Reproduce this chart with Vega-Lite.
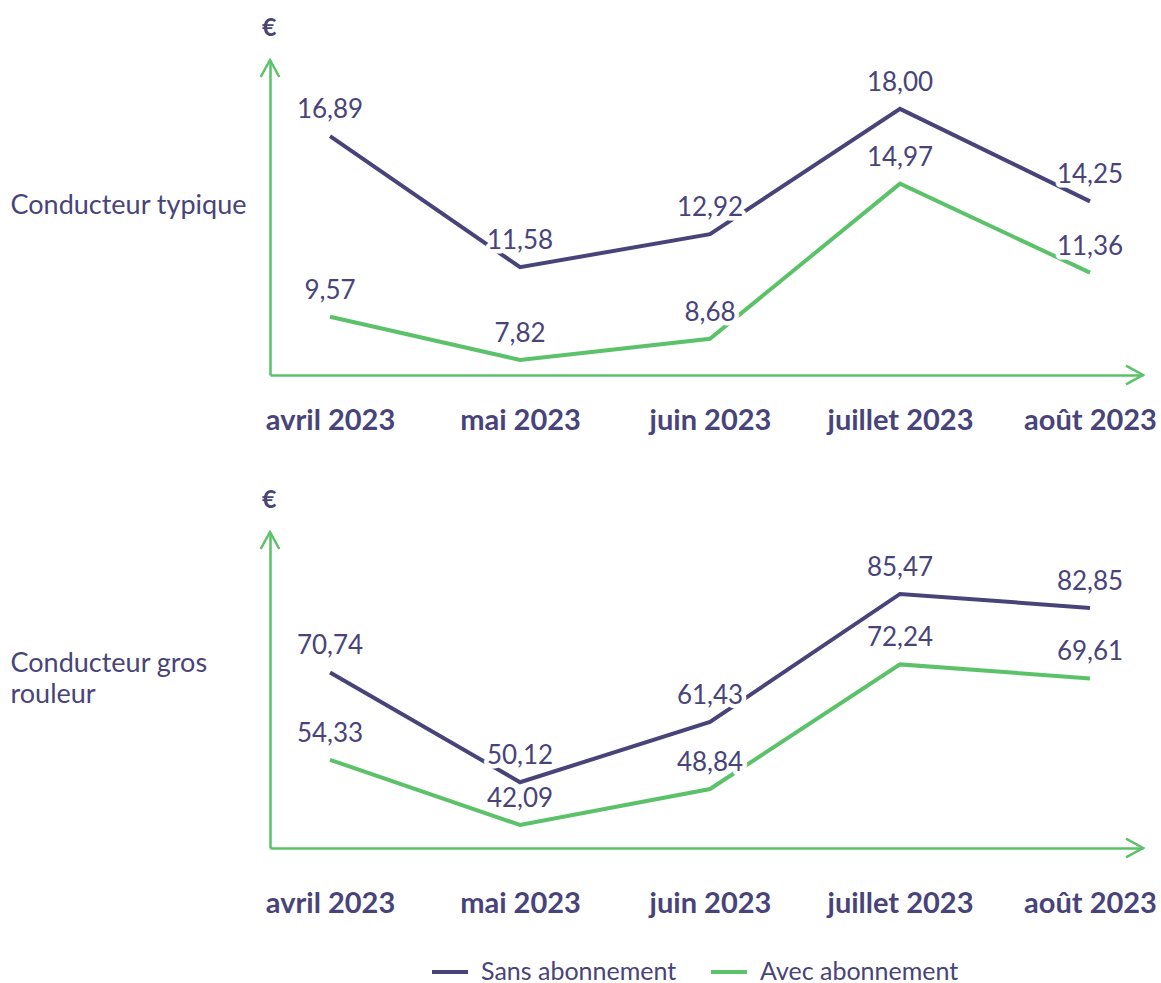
{
  "$schema": "https://vega.github.io/schema/vega-lite/v6.json",
  "padding": {"left": 10, "top": 16, "right": 0, "bottom": 0},
  "background": "white",
  "config": {"view": {"stroke": null}, "font": "Lato"},
  "datasets": {
    "p1": [
      {"mois": "avril 2023", "i": 0, "serie": "Sans abonnement", "valeur": 16.89, "label": "16,89"},
      {"mois": "mai 2023", "i": 1, "serie": "Sans abonnement", "valeur": 11.58, "label": "11,58"},
      {"mois": "juin 2023", "i": 2, "serie": "Sans abonnement", "valeur": 12.92, "label": "12,92"},
      {"mois": "juillet 2023", "i": 3, "serie": "Sans abonnement", "valeur": 18.00, "label": "18,00"},
      {"mois": "août 2023", "i": 4, "serie": "Sans abonnement", "valeur": 14.25, "label": "14,25"},
      {"mois": "avril 2023", "i": 0, "serie": "Avec abonnement", "valeur": 9.57, "label": "9,57"},
      {"mois": "mai 2023", "i": 1, "serie": "Avec abonnement", "valeur": 7.82, "label": "7,82"},
      {"mois": "juin 2023", "i": 2, "serie": "Avec abonnement", "valeur": 8.68, "label": "8,68"},
      {"mois": "juillet 2023", "i": 3, "serie": "Avec abonnement", "valeur": 14.97, "label": "14,97"},
      {"mois": "août 2023", "i": 4, "serie": "Avec abonnement", "valeur": 11.36, "label": "11,36"}
    ],
    "p2": [
      {"mois": "avril 2023", "i": 0, "serie": "Sans abonnement", "valeur": 70.74, "label": "70,74"},
      {"mois": "mai 2023", "i": 1, "serie": "Sans abonnement", "valeur": 50.12, "label": "50,12"},
      {"mois": "juin 2023", "i": 2, "serie": "Sans abonnement", "valeur": 61.43, "label": "61,43"},
      {"mois": "juillet 2023", "i": 3, "serie": "Sans abonnement", "valeur": 85.47, "label": "85,47"},
      {"mois": "août 2023", "i": 4, "serie": "Sans abonnement", "valeur": 82.85, "label": "82,85"},
      {"mois": "avril 2023", "i": 0, "serie": "Avec abonnement", "valeur": 54.33, "label": "54,33"},
      {"mois": "mai 2023", "i": 1, "serie": "Avec abonnement", "valeur": 42.09, "label": "42,09"},
      {"mois": "juin 2023", "i": 2, "serie": "Avec abonnement", "valeur": 48.84, "label": "48,84"},
      {"mois": "juillet 2023", "i": 3, "serie": "Avec abonnement", "valeur": 72.24, "label": "72,24"},
      {"mois": "août 2023", "i": 4, "serie": "Avec abonnement", "valeur": 69.61, "label": "69,61"}
    ],
    "a1": [
      {"i": 4.279, "valeur": 7.21, "a": 0},
      {"i": -0.316, "valeur": 19.98, "a": 270}
    ],
    "a2": [
      {"i": 4.279, "valeur": 37.77, "a": 0},
      {"i": -0.316, "valeur": 97.1, "a": 270}
    ]
  },
  "spacing": 53,
  "resolve": {"scale": {"x": "independent", "y": "independent", "color": "independent"}, "legend": {"color": "independent"}},
  "vconcat": [
    {
      "width": 873,
      "height": 315,
      "title": {"text": "€", "anchor": "start", "frame": "group", "fontSize": 25, "fontWeight": "bold", "color": "#48447a", "baseline": "alphabetic", "offset": -6, "dx": -8},
      "encoding": {
        "x": {"field": "i", "type": "quantitative", "scale": {"domain": [-0.316, 4.279], "nice": false, "zero": false},
          "axis": {"values": [0, 1, 2, 3, 4], "labelExpr": "['avril 2023','mai 2023','juin 2023','juillet 2023','août 2023'][datum.value]", "title": null, "grid": false, "ticks": false, "tickSize": 0, "labelPadding": 31, "labelFontSize": 29, "labelFontWeight": "bold", "labelColor": "#48447a", "labelFont": "Lato", "domainColor": "#5bc26a", "domainWidth": 2.5, "labelFlush": false, "labelOverlap": false}},
        "y": {"field": "valeur", "type": "quantitative", "scale": {"domain": [7.21, 19.98], "nice": false, "zero": false},
          "axis": {"title": "Conducteur typique", "titleAngle": 0, "titleAlign": "left", "titleBaseline": "middle", "titleX": -260, "titleY": 145, "titleFontSize": 27, "titleFontWeight": "normal", "titleColor": "#48447a", "titleFont": "Lato", "labels": false, "ticks": false, "grid": false, "domainColor": "#5bc26a", "domainWidth": 2.5}}
      },
      "layer": [
        {
          "data": {"name": "p1"},
          "mark": {"type": "line", "strokeWidth": 4},
          "encoding": {
            "color": {"field": "serie", "type": "nominal", "scale": {"domain": ["Sans abonnement", "Avec abonnement"], "range": ["#48447a", "#5bc26a"]}, "legend": null}
          }
        },
        {
          "data": {"name": "a1"},
          "mark": {"type": "point", "shape": "M -1 -0.55 L 0 0 L -1 0.55", "filled": false, "stroke": "#5bc26a", "strokeWidth": 2.5, "size": 1156, "opacity": 1},
          "encoding": {"angle": {"field": "a", "type": "quantitative", "scale": null}}
        },
        {
          "data": {"name": "p1"},
          "mark": {"type": "text", "dy": -26, "fontSize": 26, "stroke": "white", "strokeWidth": 9, "strokeJoin": "round", "fill": "white", "baseline": "middle"},
          "encoding": {"text": {"field": "label"}}
        },
        {
          "data": {"name": "p1"},
          "mark": {"type": "text", "dy": -26, "fontSize": 26, "fill": "#48447a", "baseline": "middle"},
          "encoding": {"text": {"field": "label"}}
        }
      ]
    },
    {
      "width": 873,
      "height": 316,
      "title": {"text": "€", "anchor": "start", "frame": "group", "fontSize": 25, "fontWeight": "bold", "color": "#48447a", "baseline": "alphabetic", "offset": -6, "dx": -8},
      "encoding": {
        "x": {"field": "i", "type": "quantitative", "scale": {"domain": [-0.316, 4.279], "nice": false, "zero": false},
          "axis": {"values": [0, 1, 2, 3, 4], "labelExpr": "['avril 2023','mai 2023','juin 2023','juillet 2023','août 2023'][datum.value]", "title": null, "grid": false, "ticks": false, "tickSize": 0, "labelPadding": 41, "labelFontSize": 29, "labelFontWeight": "bold", "labelColor": "#48447a", "labelFont": "Lato", "domainColor": "#5bc26a", "domainWidth": 2.5, "labelFlush": false, "labelOverlap": false}},
        "y": {"field": "valeur", "type": "quantitative", "scale": {"domain": [37.77, 97.1], "nice": false, "zero": false},
          "axis": {"title": ["Conducteur gros", "rouleur"], "titleAngle": 0, "titleAlign": "left", "titleBaseline": "middle", "titleX": -260, "titleY": 131, "titleLineHeight": 31, "titleFontSize": 27, "titleFontWeight": "normal", "titleColor": "#48447a", "titleFont": "Lato", "labels": false, "ticks": false, "grid": false, "domainColor": "#5bc26a", "domainWidth": 2.5}}
      },
      "layer": [
        {
          "data": {"name": "p2"},
          "mark": {"type": "line", "strokeWidth": 4},
          "encoding": {
            "color": {"field": "serie", "type": "nominal", "scale": {"domain": ["Sans abonnement", "Avec abonnement"], "range": ["#48447a", "#5bc26a"]},
              "legend": {"title": null, "orient": "none", "legendX": 160, "legendY": 420, "direction": "horizontal", "symbolType": "stroke", "symbolSize": 1296, "symbolStrokeWidth": 4, "labelFontSize": 25, "labelLimit": 400, "labelColor": "#48447a", "labelFont": "Lato", "labelOffset": 11, "columnPadding": 26}}
          }
        },
        {
          "data": {"name": "a2"},
          "mark": {"type": "point", "shape": "M -1 -0.55 L 0 0 L -1 0.55", "filled": false, "stroke": "#5bc26a", "strokeWidth": 2.5, "size": 1156, "opacity": 1},
          "encoding": {"angle": {"field": "a", "type": "quantitative", "scale": null}}
        },
        {
          "data": {"name": "p2"},
          "mark": {"type": "text", "dy": -26, "fontSize": 26, "stroke": "white", "strokeWidth": 9, "strokeJoin": "round", "fill": "white", "baseline": "middle"},
          "encoding": {"text": {"field": "label"}}
        },
        {
          "data": {"name": "p2"},
          "mark": {"type": "text", "dy": -26, "fontSize": 26, "fill": "#48447a", "baseline": "middle"},
          "encoding": {"text": {"field": "label"}}
        }
      ]
    }
  ]
}
